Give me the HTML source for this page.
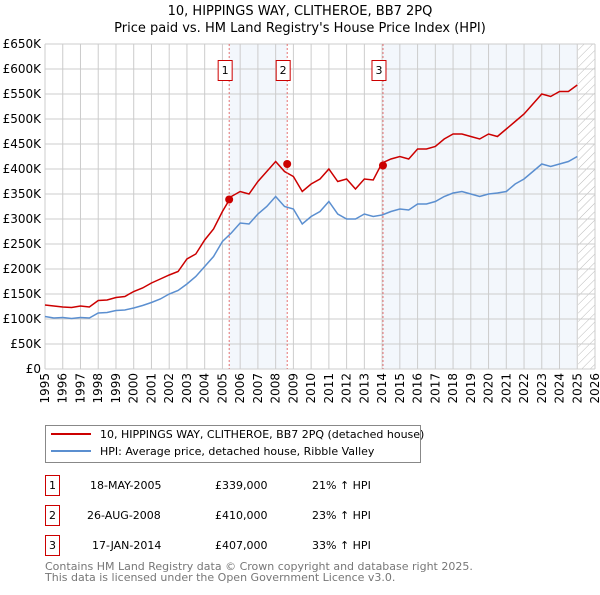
<!DOCTYPE html>
<html><head><meta charset="utf-8"><style>
body{margin:0;background:#fff;font-family:"Liberation Sans","DejaVu Sans",sans-serif;}
svg text{font-family:"DejaVu Sans","Liberation Sans",sans-serif;}
</style></head><body>
<svg id="c" width="600" height="590">
<defs><pattern id="hatch" width="6" height="6" patternUnits="userSpaceOnUse" patternTransform="rotate(45)"><line x1="0" y1="0" x2="0" y2="6" stroke="#bbb" stroke-width="1"/></pattern></defs>
<text x="300" y="15" text-anchor="middle" font-size="13">10, HIPPINGS WAY, CLITHEROE, BB7 2PQ</text>
<text x="300" y="32" text-anchor="middle" font-size="13">Price paid vs. HM Land Registry's House Price Index (HPI)</text>
<g id="plot"></g>
<g>
<rect x="45.5" y="425.5" width="375" height="37" fill="#fff" stroke="#888"/>
<line x1="51" y1="434" x2="91" y2="434" stroke="#cc0000" stroke-width="2"/>
<text x="100" y="438" font-size="11">10, HIPPINGS WAY, CLITHEROE, BB7 2PQ (detached house)</text>
<line x1="51" y1="451" x2="91" y2="451" stroke="#5b8fd0" stroke-width="2"/>
<text x="100" y="455" font-size="11">HPI: Average price, detached house, Ribble Valley</text>
</g>
<g font-size="11">
<rect x="45.5" y="475.5" width="14" height="20" fill="#fff" stroke="#cc0000"/><text x="52.5" y="489" text-anchor="middle">1</text>
<text x="90" y="489">18-MAY-2005</text><text x="215" y="489">£339,000</text><text x="312" y="489">21% ↑ HPI</text>
<rect x="45.5" y="505.5" width="14" height="20" fill="#fff" stroke="#cc0000"/><text x="52.5" y="519" text-anchor="middle">2</text>
<text x="87" y="519">26-AUG-2008</text><text x="215" y="519">£410,000</text><text x="312" y="519">23% ↑ HPI</text>
<rect x="45.5" y="535.5" width="14" height="20" fill="#fff" stroke="#cc0000"/><text x="52.5" y="549" text-anchor="middle">3</text>
<text x="92" y="549">17-JAN-2014</text><text x="215" y="549">£407,000</text><text x="312" y="549">33% ↑ HPI</text>
</g>
<text x="45" y="570" font-size="11" fill="#777">Contains HM Land Registry data © Crown copyright and database right 2025.</text>
<text x="45" y="581" font-size="11" fill="#777">This data is licensed under the Open Government Licence v3.0.</text>
</svg>
<script>
const years=[1995,1995.5,1996,1996.5,1997,1997.5,1998,1998.5,1999,1999.5,2000,2000.5,2001,2001.5,2002,2002.5,2003,2003.5,2004,2004.5,2005,2005.5,2006,2006.5,2007,2007.5,2008,2008.5,2009,2009.5,2010,2010.5,2011,2011.5,2012,2012.5,2013,2013.5,2014,2014.5,2015,2015.5,2016,2016.5,2017,2017.5,2018,2018.5,2019,2019.5,2020,2020.5,2021,2021.5,2022,2022.5,2023,2023.5,2024,2024.5,2025];
const hpi=[105,102,103,101,103,102,112,113,117,118,122,127,133,140,150,157,170,185,205,225,255,272,292,290,310,325,345,325,320,290,305,315,335,310,300,300,310,305,308,315,320,318,330,330,335,345,352,355,350,345,350,352,355,370,380,395,410,405,410,415,425];
const house=[128,126,124,123,126,124,137,138,143,145,155,162,172,180,188,195,220,230,258,280,315,345,355,350,375,395,415,395,385,355,370,380,400,375,380,360,380,378,412,420,425,420,440,440,445,460,470,470,465,460,470,465,480,495,510,530,550,545,555,555,568];
const saleYears=[2005.38,2008.65,2014.05];
const salePrices=[339,410,407];
const saleLabels=["1","2","3"];
const yTicks=[0,50,100,150,200,250,300,350,400,450,500,550,600,650];
const xTicks=[];for(let y=1995;y<=2026;y++)xTicks.push(y);
const X0=45,X1=595,Y0=369,Y1=44;
const xs=v=>X0+(v-1995)*(X1-X0)/31;
const ys=v=>Y0-v*(Y0-Y1)/650;
const NS="http://www.w3.org/2000/svg";
const g=document.getElementById('plot');
function mk(t,a){const e=document.createElementNS(NS,t);for(const k in a)e.setAttribute(k,a[k]);g.appendChild(e);return e;}
let e;
e=mk('rect',{x:xs(saleYears[0]),y:Y1,width:xs(saleYears[1])-xs(saleYears[0]),height:Y0-Y1,fill:'#eef3fb',opacity:0.7});


e=mk('rect',{x:xs(saleYears[2]),y:Y1,width:xs(2025)-xs(saleYears[2]),height:Y0-Y1,fill:'#eef3fb',opacity:0.7});


e=mk('rect',{x:xs(2025.05),y:Y1,width:X1-xs(2025.05),height:Y0-Y1,fill:'url(#hatch)'});


yTicks.forEach(v=>{
 e=mk('line',{x1:X0,x2:X1,y1:ys(v),y2:ys(v),stroke:'#ccc','stroke-width':1});
 
 
 e=mk('text',{x:X0-4,y:ys(v)+4,'text-anchor':'end','font-size':12});
 e.textContent=v===0?'£0':'£'+v+'K';
 
 
});
xTicks.forEach(v=>{
 e=mk('line',{x1:xs(v),x2:xs(v),y1:Y1,y2:Y0,stroke:'#ccc','stroke-width':1});
 
 
 e=mk('text',{x:0,y:0,'text-anchor':'end','font-size':12,transform:`translate(${xs(v)+4},${Y0+4}) rotate(-90)`});
 e.textContent=v;
 
 
});
e=mk('line',{x1:X0,x2:X0,y1:Y1,y2:Y0,stroke:'#ccc'});


e=mk('polyline',{points:years.map((y,i)=>xs(y)+','+ys(hpi[i])).join(' '),fill:'none',stroke:'#5b8fd0','stroke-width':1.5});


e=mk('polyline',{points:years.map((y,i)=>xs(y)+','+ys(house[i])).join(' '),fill:'none',stroke:'#cc0000','stroke-width':1.5});


saleYears.forEach((s,i)=>{
 e=mk('line',{x1:xs(s),x2:xs(s),y1:Y1,y2:Y0,stroke:'#e05050','stroke-dasharray':'2,2','stroke-width':0.8});
 
 
 e=mk('circle',{cx:xs(s),cy:ys(salePrices[i]),r:4,fill:'#cc0000'});
 
 
 e=mk('rect',{x:xs(s)-11,y:60.5,width:14,height:20,fill:'#fff',stroke:'#cc0000'});
 
 
 e=mk('text',{x:xs(s)-4,y:74,'text-anchor':'middle','font-size':11});
 e.textContent=saleLabels[i];
 
 
});
</script>
</body></html>
